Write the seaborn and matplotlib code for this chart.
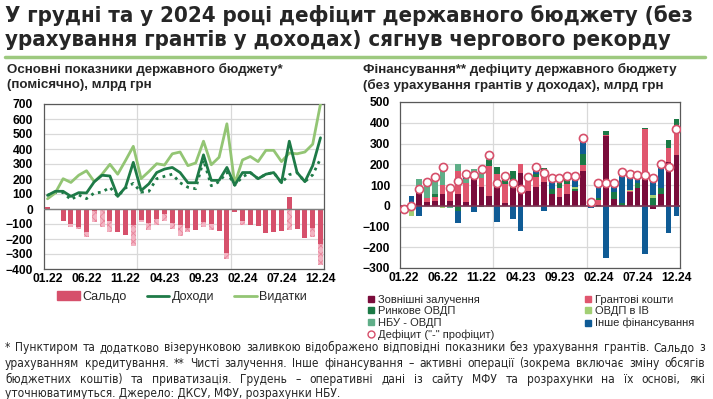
import matplotlib
matplotlib.use('Agg')
import os
import numpy as np
import pandas as pd
import matplotlib.pyplot as plt
import seaborn as sns
from matplotlib import font_manager
from matplotlib.font_manager import FontProperties
from matplotlib.patches import Patch
from matplotlib.lines import Line2D

# Дані (млрд грн), 01.22 - 12.24
months = [f"{m:02d}.{y}" for y in (22, 23, 24) for m in range(1, 13)]
tick_labels = ['01.22', '06.22', '11.22', '04.23', '09.23', '02.24', '07.24', '12.24']

# ліва панель
saldo = [12, 2, -80, -98, -120, -150, -10, -5, -80, -150, -173, -105,
         -75, -93, -64, -34, -91, -109, -125, -139, -86, -98, -148, -291,
         -18, -80, -105, -114, -159, -150, -148, 80, -132, -195, -127, -230]
saldo_no_grants = [12, 2, -80, -120, -135, -188, -85, -118, -155, -150, -176, -245,
                   -86, -143, -105, -82, -136, -177, -155, -139, -120, -143, -148, -332,
                   -18, -109, -105, -114, -159, -150, -148, -143, -132, -195, -188, -370]
revenues = [91, 118, 118, 84, 109, 107, 182, 225, 220, 84, 145, 311,
            123, 168, 243, 266, 277, 243, 175, 175, 361, 191, 191, 277,
            159, 243, 243, 202, 232, 243, 175, 452, 243, 182, 289, 475]
revenues_no_grants = [91, 110, 110, 62, 94, 69, 107, 112, 145, 84, 140, 171,
                      112, 118, 202, 218, 232, 175, 145, 135, 327, 155, 182, 245,
                      159, 214, 243, 202, 232, 243, 175, 229, 243, 182, 228, 335]
expenditures = [68, 107, 202, 177, 225, 255, 182, 232, 298, 232, 323, 418,
                202, 250, 302, 293, 368, 380, 289, 307, 452, 295, 345, 568,
                168, 327, 350, 316, 391, 391, 316, 373, 368, 380, 432, 700]

# права панель
external = [0, 0, 63, 18, 22, 58, 25, 56, 16, 130, 92, 47,
            100, 15, 87, 156, 71, 92, 113, 56, 42, 56, 71, 168,
            20, 3, 337, 32, 0, 68, 87, 129, -15, 55, 213, 245]
grants = [0, 0, 0, 20, 18, 42, 46, 110, 92, 0, 40, 145,
          55, 88, 0, 45, 50, 48, 27, 0, 45, 47, 0, 29,
          5, 25, 5, 0, 0, 5, 0, 240, 0, 0, 64, 137]
market_bonds = [0, -20, 21, 0, 15, 0, 26, -25, 0, 20, -5, 28,
                30, 25, 81, 0, 16, 15, 42, 24, 22, 30, 10, 51,
                7, 10, 18, 36, 13, 0, 25, 8, 35, 30, 41, 36]
fx_bonds = [0, -28, 0, 0, 0, -10, 0, 0, 0, 0, 0, -5,
            0, 0, 0, 0, 0, 0, 0, 0, 0, 12, 8, 0,
            0, -8, 0, 0, -3, 5, 0, 0, 15, 0, 0, 0]
nbu_bonds = [0, 0, 45, 70, 62, 95, -12, 35, 20, 26, 24, 30,
             0, 0, 0, 0, 0, 0, 0, 0, 0, 0, 0, 0,
             0, 0, 0, 0, 0, 0, 0, 0, 0, 0, 0, 0]
other = [-15, 45, -48, 7, 20, 0, 0, -57, 25, -28, 25, 0,
         -77, 17, -65, -122, 0, 30, -26, 55, 26, 0, 56, 78,
         -13, 80, -250, 43, 148, 74, 36, -231, 95, 115, -129, -48]
deficit = [-15, -3, 80, 115, 137, 185, 85, 119, 153, 148, 176, 245,
           111, 145, 108, 79, 137, 185, 156, 135, 135, 145, 145, 326,
           19, 111, 110, 111, 161, 152, 148, 148, 135, 200, 189, 371]

# кольори
c_saldo = '#D6506B'
c_saldo_light = '#F3B3C2'
c_rev = '#1E7A47'
c_exp = '#93C574'
fin_colors = ['#7A0C3B', '#E0566E', '#1B7A46', '#A2CF74', '#5FAE88', '#0F5B95']
fin_labels = ['Зовнішні залучення', 'Грантові кошти', 'Ринкове ОВДП',
              'ОВДП в ІВ', 'НБУ - ОВДП', 'Інше фінансування']
grid_c = '#D9D9D9'

sns.set_style('white')
plt.rcParams['font.family'] = ['Liberation Sans', 'DejaVu Sans']
plt.rcParams['hatch.linewidth'] = 0.6

# вузький шрифт, якщо є (як Arial Narrow в оригіналі)
narrow_files = {}
for f in font_manager.fontManager.ttflist:
    fn = os.path.basename(f.fname)
    if 'DejaVuSansCondensed' in fn and 'Oblique' not in fn:
        narrow_files['bold' if 'Bold' in fn else 'regular'] = f.fname
if len(narrow_files) == 2:
    fp_title = FontProperties(fname=narrow_files['bold'], size=15.9)
    fp_note = FontProperties(fname=narrow_files['regular'], size=8.6)
else:
    fp_title = FontProperties(family='Liberation Sans', weight='bold', size=16)
    fp_note = FontProperties(family='Liberation Sans', size=8.2)

W, H = 713, 399
fig = plt.figure(figsize=(W / 100, H / 100), dpi=100)


def box(l, t, r, b):
    return [l / W, 1 - b / H, (r - l) / W, (b - t) / H]


ax1 = fig.add_axes(box(44, 104, 324, 269))
ax2 = fig.add_axes(box(400, 102, 680, 268))
x = np.arange(len(months))

# --- ліва панель ---
sns.barplot(x=x, y=saldo_no_grants, native_scale=True, ax=ax1, color=c_saldo_light,
            saturation=1, width=0.65, errorbar=None, hatch='xxxx',
            edgecolor='#E8869C', linewidth=0, zorder=2)
sns.barplot(x=x, y=saldo, native_scale=True, ax=ax1, color=c_saldo,
            saturation=1, width=0.65, errorbar=None, linewidth=0, zorder=3)
sns.lineplot(x=x, y=revenues_no_grants, ax=ax1, color=c_rev, lw=2, linestyle=(0, (1, 1.6)), zorder=4)
sns.lineplot(x=x, y=expenditures, ax=ax1, color=c_exp, lw=2, zorder=5)
sns.lineplot(x=x, y=revenues, ax=ax1, color=c_rev, lw=2, zorder=6)
ax1.set_ylim(-400, 700)
ax1.set_yticks(range(-400, 701, 100))
ax1.axhline(0, color='#7F7F7F', lw=1, zorder=3)

# --- права панель ---
df = pd.DataFrame({'Зовн': external, 'Гранти': grants, 'Ринк': market_bonds,
                   'ІВ': fx_bonds, 'НБУ': nbu_bonds, 'Інше': other})
pos_base = np.zeros(len(x))
neg_base = np.zeros(len(x))
for col, colr in zip(df.columns, fin_colors):
    v = df[col].to_numpy(dtype=float)
    pv = np.where(v > 0, v, 0)
    nv = np.where(v < 0, v, 0)
    ax2.bar(x, pv, bottom=pos_base, width=0.72, color=colr, linewidth=0, zorder=2)
    ax2.bar(x, nv, bottom=neg_base, width=0.72, color=colr, linewidth=0, zorder=2)
    pos_base += pv
    neg_base += nv
ax2.axhline(0, color='#7B3553', lw=1.2, zorder=3)
sns.scatterplot(x=x, y=deficit, ax=ax2, s=34, color='white', edgecolor=c_saldo,
                linewidth=1.2, zorder=5, legend=False)
ax2.set_ylim(-300, 500)
ax2.set_yticks(range(-300, 501, 100))

for ax, ypad in ((ax1, 8), (ax2, 7)):
    ax.set_xlim(-0.45, 35.45)
    ax.set_xticks([0, 5, 10, 15, 20, 25, 30, 35])
    ax.set_xticklabels(tick_labels)
    ax.grid(axis='y', color=grid_c, lw=0.9, zorder=0)
    ax.set_axisbelow(True)
    for xv in (11.5, 23.5):
        ax.axvline(xv, color=grid_c, lw=0.9, zorder=0)
    ax.tick_params(axis='both', labelsize=8.7, length=0, colors='black')
    ax.tick_params(axis='x', pad=3)
    ax.tick_params(axis='y', pad=ypad)
    for lab in ax.get_xticklabels() + ax.get_yticklabels():
        lab.set_fontweight('bold')
    for s in ax.spines.values():
        s.set_color('#595959')
        s.set_linewidth(0.9)
    ax.set_xlabel('')
    ax.set_ylabel('')

# --- заголовки ---
fig.text(5 / W, 1 - 15 / H, 'У грудні та у 2024 році дефіцит державного бюджету (без',
         fontproperties=fp_title, va='center')
fig.text(5 / W, 1 - 40 / H, 'урахування грантів у доходах) сягнув чергового рекорду',
         fontproperties=fp_title, va='center')
fig.add_artist(Line2D([5 / W, 705 / W], [1 - 57 / H, 1 - 57 / H], color='#9DC97F', lw=2.5))

fig.text(7 / W, 1 - 69 / H, 'Основні показники державного бюджету*', fontsize=9.6,
         fontweight='bold', va='center')
fig.text(7 / W, 1 - 85 / H, '(помісячно), млрд грн', fontsize=9.6, fontweight='bold', va='center')
fig.text(363 / W, 1 - 69 / H, 'Фінансування** дефіциту державного бюджету', fontsize=9.6,
         fontweight='bold', va='center')
fig.text(363 / W, 1 - 85 / H, '(без урахування грантів у доходах), млрд грн', fontsize=9.6,
         fontweight='bold', va='center')

# --- легенди ---
h1 = [Patch(color=c_saldo), Line2D([], [], color=c_rev, lw=2), Line2D([], [], color=c_exp, lw=2)]
fig.legend(h1, ['Сальдо', 'Доходи', 'Видатки'], ncol=3, loc='center',
           bbox_to_anchor=(182 / W, 1 - 297 / H), fontsize=9, frameon=False,
           handlelength=1.8, handletextpad=0.2, columnspacing=1.6)

sq = [Line2D([], [], marker='s', ls='none', color=c, markersize=4) for c in fin_colors]
circ = Line2D([], [], marker='o', ls='none', markerfacecolor='white',
              markeredgecolor=c_saldo, markersize=5)
h2 = [sq[0], sq[2], sq[4], circ, sq[1], sq[3], sq[5]]
l2 = [fin_labels[0], fin_labels[2], fin_labels[4], 'Дефіцит ("-" профіцит)',
      fin_labels[1], fin_labels[3], fin_labels[5]]
fig.legend(h2, l2, ncol=2, loc='upper left', bbox_to_anchor=(362 / W, 1 - 289 / H),
           fontsize=8, frameon=False, handlelength=0.6, handletextpad=0.3,
           columnspacing=8.2, labelspacing=0.15, borderpad=0)

# --- примітка (вирівнювання по ширині) ---
notes = [
    '* Пунктиром та додатково візерунковою заливкою відображено відповідні показники без урахування грантів. Сальдо з',
    'урахуванням кредитування.  ** Чисті залучення. Інше фінансування – активні операції (зокрема включає зміну обсягів',
    'бюджетних коштів) та приватизація. Грудень – оперативні дані із сайту МФУ та розрахунки на їх основі, які',
    'уточнюватимуться. Джерело: ДКСУ, МФУ, розрахунки НБУ.',
]
note_base = [351, 367, 383, 397]
renderer = fig.canvas.get_renderer()
x0, x1 = 5, 705
for i, (line, yy) in enumerate(zip(notes, note_base)):
    words = line.split()
    if i == len(notes) - 1:
        fig.text(x0 / W, 1 - yy / H, line, fontproperties=fp_note, va='baseline')
        continue
    arts = [fig.text(0, 1 - yy / H, w, fontproperties=fp_note, va='baseline') for w in words]
    widths = [a.get_window_extent(renderer).width for a in arts]
    gap = (x1 - x0 - sum(widths)) / (len(words) - 1)
    cx = x0
    for a, wd in zip(arts, widths):
        a.set_x(cx / W)
        cx += wd + gap

fig.savefig('out.png', dpi=100)
